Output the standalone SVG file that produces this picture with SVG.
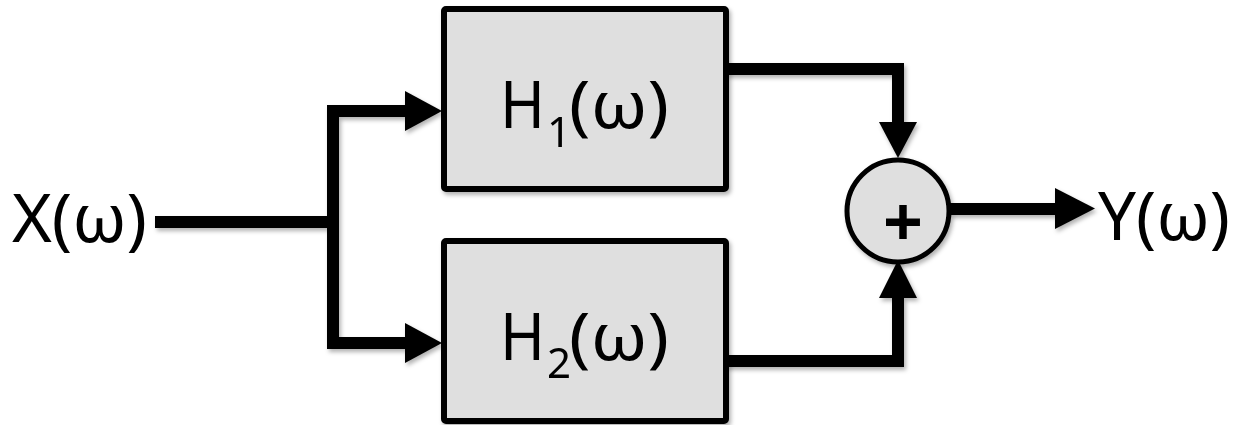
<svg xmlns="http://www.w3.org/2000/svg" width="1239" height="425" viewBox="0 0 1239 425">
<style>
.wire{fill:none;stroke:#000;stroke-width:12;stroke-linejoin:miter;stroke-linecap:butt}
.head{fill:#000}
.box{fill:#dfdfdf;stroke:#000;stroke-width:6}
.lbl{font-family:"Noto Sans","Open Sans",sans-serif;fill:#000}
</style>
<defs>
<filter id="sh" x="-10%" y="-10%" width="130%" height="130%">
<feDropShadow dx="2" dy="3" stdDeviation="2" flood-color="#000" flood-opacity="0.3"/>
</filter>
</defs>
<g id="connectors" filter="url(#sh)">
<path class="wire" d="M155 222 H333"/>
<path class="wire" d="M406 111 H333 V343 H406"/>
<polygon class="head" points="405,91 405,131 442,111"/>
<polygon class="head" points="405,323 405,363 442,343"/>
<path class="wire" d="M726 69 H898 V123"/>
<polygon class="head" points="879,122 917,122 898,158"/>
<path class="wire" d="M726 361 H898 V297"/>
<polygon class="head" points="879,298 917,298 898,260"/>
<path class="wire" d="M950 209 H1056"/>
<polygon class="head" points="1055,188 1055,229 1095,208.5"/>
</g>
<g id="H1" filter="url(#sh)">
<rect class="box" x="444" y="9" width="282" height="180" rx="2"/>
<text class="lbl" font-size="66" x="500" y="128" textLength="45" lengthAdjust="spacingAndGlyphs">H</text>
<text class="lbl" font-size="42" x="547" y="147">1</text>
<text class="lbl" font-size="66" x="569" y="128" textLength="100" lengthAdjust="spacingAndGlyphs">(ω)</text>
</g>
<g id="H2" filter="url(#sh)">
<rect class="box" x="444" y="241" width="282" height="180" rx="2"/>
<text class="lbl" font-size="66" x="500" y="360" textLength="45" lengthAdjust="spacingAndGlyphs">H</text>
<text class="lbl" font-size="42" x="547" y="378">2</text>
<text class="lbl" font-size="66" x="569" y="360" textLength="100" lengthAdjust="spacingAndGlyphs">(ω)</text>
</g>
<g id="sum" filter="url(#sh)">
<circle cx="898" cy="211" r="51" fill="#dfdfdf" stroke="#000" stroke-width="5"/>
<text class="lbl" font-size="70" font-weight="bold" x="903" y="247" text-anchor="middle">+</text>
</g>
<g id="X">
<text class="lbl" font-size="68" x="12" y="242" textLength="135" lengthAdjust="spacingAndGlyphs">X(ω)</text>
</g>
<g id="Y">
<text class="lbl" font-size="67" x="1098" y="240" textLength="132" lengthAdjust="spacingAndGlyphs">Y(ω)</text>
</g>
</svg>
